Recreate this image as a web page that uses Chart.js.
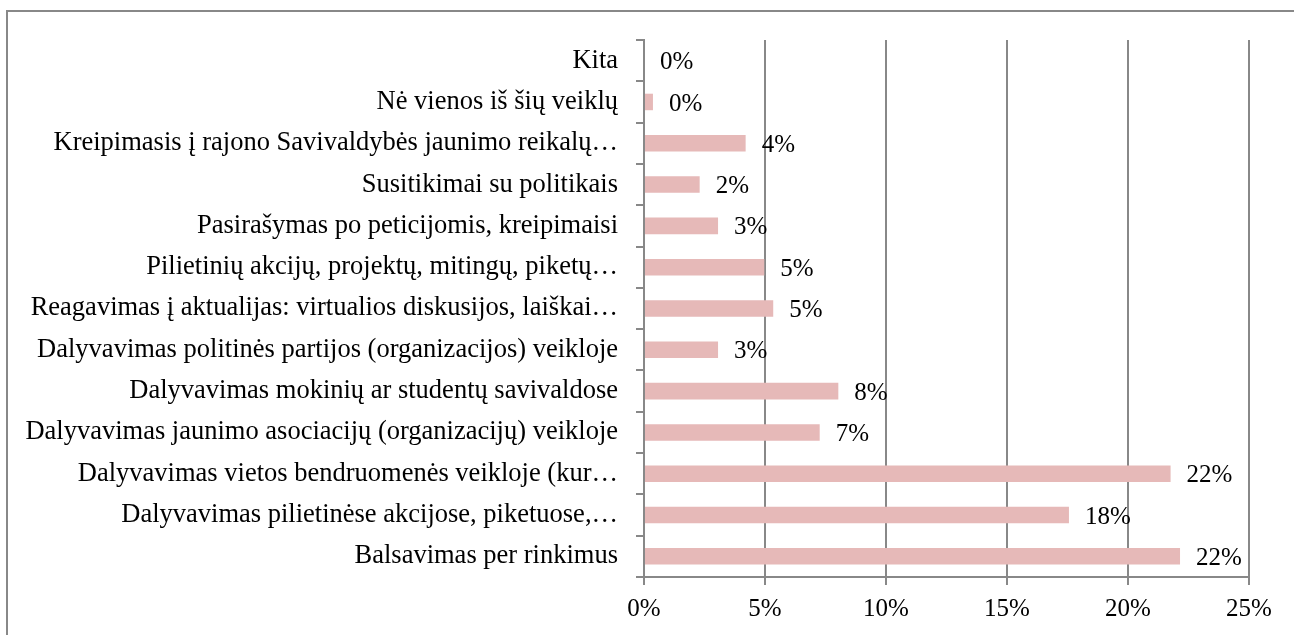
<!DOCTYPE html>
<html>
<head>
<meta charset="utf-8">
<script src="https://cdn.jsdelivr.net/npm/chart.js@4/dist/chart.umd.min.js"></script>
<style>
    html, body { margin: 0; padding: 0; background: #fff; overflow: hidden; }
    #frame {
        position: absolute; left: 6px; top: 10px; width: 1400px; height: 700px;
        border-left: 2px solid #888; border-top: 2px solid #888;
    }
    #myChart { position: absolute; left: 0; top: 0; }
</style>
</head>
<body>
<div id="frame"></div>
<canvas id="myChart" width="1294" height="635"></canvas>
<script>
const categorias = [
    "Kita",
    "Nė vienos iš šių veiklų",
    "Kreipimasis į rajono Savivaldybės jaunimo reikalų…",
    "Susitikimai su politikais",
    "Pasirašymas po peticijomis, kreipimaisi",
    "Pilietinių akcijų, projektų, mitingų, piketų…",
    "Reagavimas į aktualijas: virtualios diskusijos, laiškai…",
    "Dalyvavimas politinės partijos (organizacijos) veikloje",
    "Dalyvavimas mokinių ar studentų savivaldose",
    "Dalyvavimas jaunimo asociacijų (organizacijų) veikloje",
    "Dalyvavimas vietos bendruomenės veikloje (kur…",
    "Dalyvavimas pilietinėse akcijose, piketuose,…",
    "Balsavimas per rinkimus"
];
const valores = [0, 0.37, 4.2, 2.3, 3.06, 4.97, 5.34, 3.06, 8.03, 7.26, 21.76, 17.56, 22.15];
const ticksX = [0, 5, 10, 15, 20, 25];

const fuente = "'Liberation Serif', 'Times New Roman', serif";
const gris = "#888888";

// etiquetas de valor a la derecha de cada barra
const etiquetasValor = {
    id: "etiquetasValor",
    afterDatasetsDraw(chart) {
        const ctx = chart.ctx;
        const meta = chart.getDatasetMeta(0);
        ctx.save();
        ctx.font = "25px " + fuente;
        ctx.fillStyle = "#000";
        ctx.textAlign = "left";
        ctx.textBaseline = "middle";
        meta.data.forEach((bar, i) => {
            ctx.fillText(Math.round(valores[i]) + "%", bar.x + 16, bar.y + 2);
        });
        ctx.restore();
    }
};

const ctx = document.getElementById("myChart").getContext("2d");
new Chart(ctx, {
    type: "bar",
    data: {
        labels: categorias,
        datasets: [{
            data: valores,
            backgroundColor: "#E6B9B8",
            borderWidth: 0,
            barPercentage: 0.4,
            categoryPercentage: 1
        }]
    },
    options: {
        indexAxis: "y",
        responsive: false,
        animation: false,
        devicePixelRatio: 1,
        layout: { padding: { left: 0, right: 45, top: 40, bottom: 0 } },
        plugins: { legend: { display: false }, tooltip: { enabled: false } },
        scales: {
            x: {
                min: 0,
                max: 25,
                afterBuildTicks: (scale) => { scale.ticks = ticksX.map(v => ({ value: v })); },
                afterFit: (scale) => { scale.height = 58; },
                grid: { color: gris, lineWidth: 2, tickLength: 8 },
                border: { color: gris, width: 2 },
                ticks: {
                    color: "#000",
                    font: { family: fuente, size: 25 },
                    padding: 9,
                    callback: (v) => v + "%"
                }
            },
            y: {
                afterFit: (scale) => { scale.width = 644; },
                grid: { drawOnChartArea: false, color: gris, lineWidth: 2, tickLength: 8 },
                border: { color: gris, width: 2 },
                ticks: {
                    color: "#000",
                    font: { family: fuente, size: 26.5 },
                    padding: 18,
                    autoSkip: false
                }
            }
        }
    },
    plugins: [etiquetasValor]
});
</script>
</body>
</html>
